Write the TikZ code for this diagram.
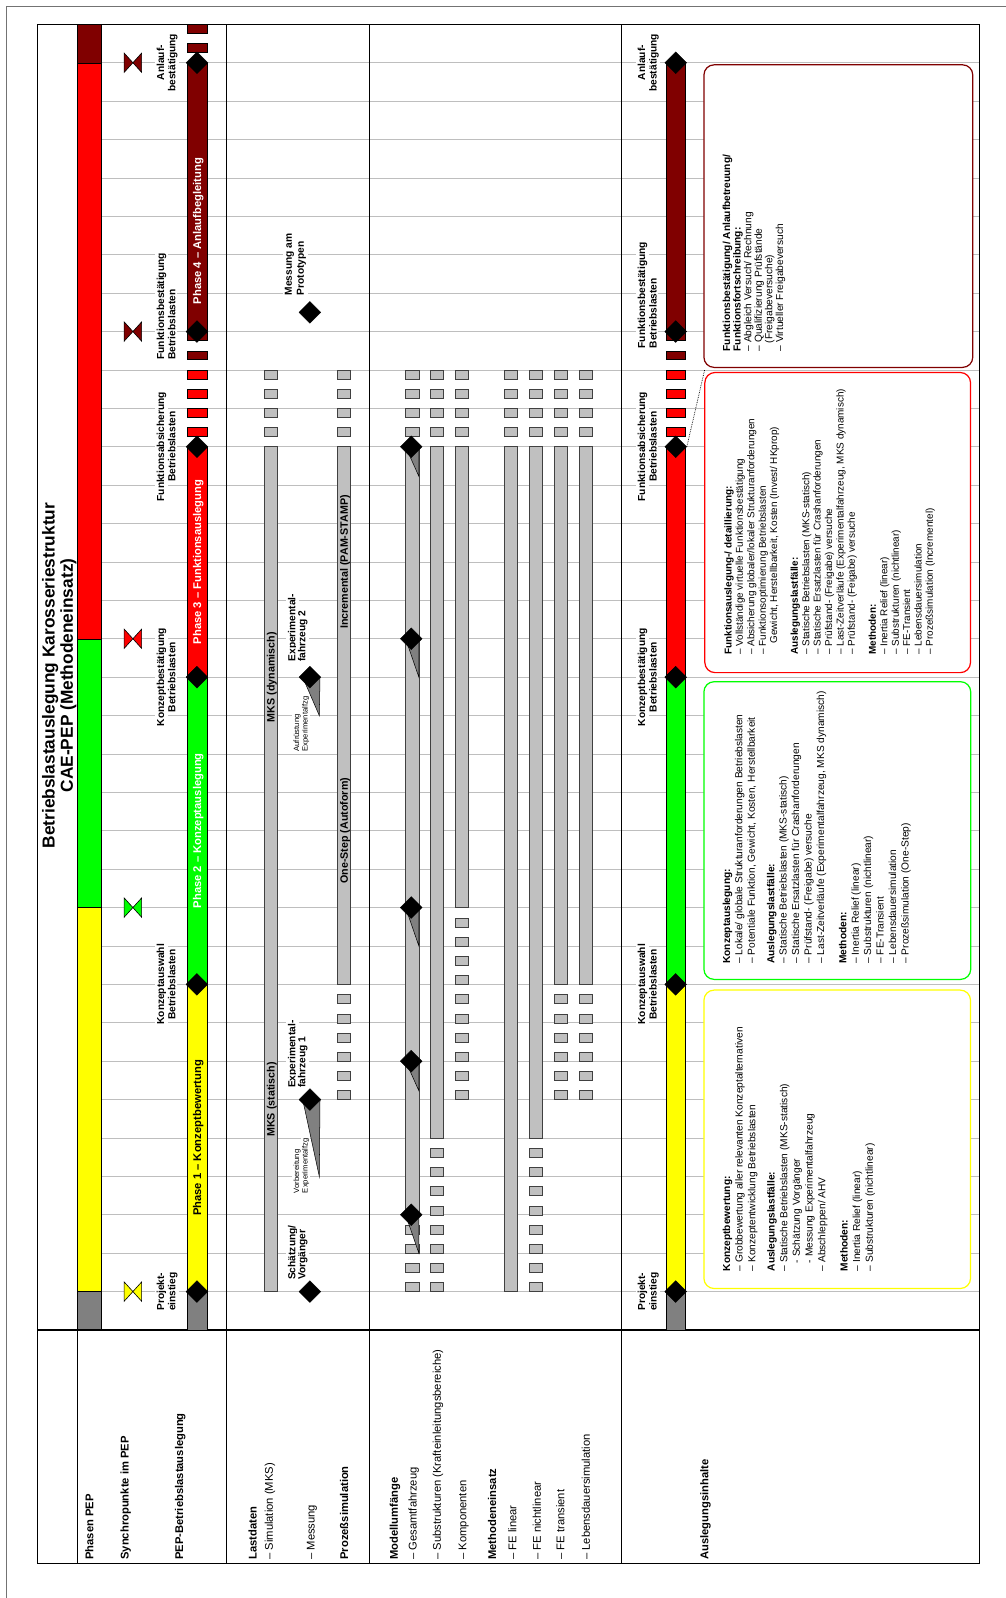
\documentclass[tikz,border=0pt]{standalone}
\usepackage{fontspec}
\setmainfont{Liberation Sans}
\usetikzlibrary{shapes.geometric}
\definecolor{pyel}{HTML}{FFFF00}
\definecolor{pgrn}{HTML}{00FF00}
\definecolor{pred}{HTML}{FF0000}
\definecolor{pdrk}{HTML}{800000}
\definecolor{barg}{HTML}{C0C0C0}
\definecolor{trig}{HTML}{808080}
\definecolor{gridc}{HTML}{BEBEBE}
\newcommand\BarDashUp[5]{\foreach \j in {1,...,#4}{\path[#5] (#1,{ty(#3+0.5*\j-0.23)}) rectangle (#2,{ty(#3+0.5*\j)});}}
\newcommand\BarDashDown[5]{\foreach \j in {1,...,#4}{\path[#5] (#1,{ty(#3-0.5*\j)}) rectangle (#2,{ty(#3-0.5*\j+0.23)});}}
\begin{document}
\begin{tikzpicture}[x=1pt,y=-1pt,
  declare function={ty(\t)=1305-37.68*(\t);},
  gridline/.style={draw=gridc,line width=0.6pt},
  frameline/.style={draw=black,line width=1.1pt},
  pepbar/.style={draw=black,line width=0.45pt},
  gbar/.style={fill=barg,draw=black!75,line width=0.5pt},
  tri/.style={fill=trig,draw=black,line width=0.5pt},
  ms/.style={diamond,fill=black,draw=black,inner sep=0pt,minimum size=21.5pt},
  rot/.style={rotate=90,inner sep=0pt},
  collab/.style={rot,anchor=base west,font=\fontsize{11}{13}\selectfont},
  collabb/.style={collab,font=\fontsize{11}{13}\selectfont\bfseries},
  mslab/.style={rot,anchor=base,fill=white,inner sep=1.5pt,font=\fontsize{10}{12}\selectfont\bfseries},
  mslabw/.style={mslab,anchor=base west},
  phlab/.style={rot,anchor=base,font=\fontsize{11}{13}\selectfont\bfseries},
  barlab/.style={rot,anchor=base,font=\fontsize{10.5}{12}\selectfont\bfseries},
  smlab/.style={rot,anchor=base west,fill=white,inner sep=1.2pt,font=\fontsize{7.5}{9}\selectfont},
  boxtxt/.style={rot,anchor=north west,align=left},
  ibox/.style={line width=1.2pt,fill=white,rounded corners=10pt},
  pics/hglass/.style={code={\path[draw=black,line width=0.6pt,fill=#1] (-8.6,-9.5) -- (8.6,9.5) -- (8.6,-9.5) -- (-8.6,9.5) -- cycle;}}
]
\useasboundingbox (0,0) rectangle (987,1568);
\draw[black!55,line width=0.8pt] (6.5,1568) -- (6.5,5.9) -- (987,5.9);

% time grid
\foreach \k in {1,...,33}{\draw[gridline] (99.8,{ty(\k)}) -- (960.8,{ty(\k)});}

% Phasen PEP
\path[pepbar,fill=trig] (76,{ty(0)}) rectangle (99.8,{ty(1)});
\path[pepbar,fill=pyel] (76,{ty(1)}) rectangle (99.8,{ty(11)});
\path[pepbar,fill=pgrn] (76,{ty(11)}) rectangle (99.8,{ty(18)});
\path[pepbar,fill=pred] (76,{ty(18)}) rectangle (99.8,{ty(33)});
\path[pepbar,fill=pdrk] (76,{ty(33)}) rectangle (99.8,{ty(34)});

% content boxes
\path[ibox,draw=pdrk] (690.7,63.6) rectangle (954.5,360.5);
\path[ibox,draw=pred] (691.6,365.5) rectangle (952.3,660);
\path[ibox,draw=pgrn] (690.7,668.9) rectangle (952.5,961);
\path[ibox,draw=pyel] (690.7,971.5) rectangle (952.3,1264.3);

% frame
\draw[frameline] (36.6,23.9) rectangle (960.8,1533.7);
\draw[frameline] (76,23.9) -- (76,1533.7);
\draw[frameline] (222.4,23.9) -- (222.4,1533.7);
\draw[frameline] (362.3,23.9) -- (362.3,1533.7);
\draw[frameline] (610,23.9) -- (610,1533.7);
\draw[frameline] (36.6,1305) -- (960.8,1305);

% title
\node[rot,anchor=base,font=\fontsize{17}{20}\selectfont\bfseries] (title1) at (53.5,662.8) {Betriebslastauslegung Karosseriestruktur};
\node[rot,anchor=base,font=\fontsize{17}{20}\selectfont\bfseries] (title2) at (71.5,662.8) {CAE-PEP (Methodeneinsatz)};

% synchro points
\pic at (130.4,{ty(1)}) {hglass=pyel};
\pic at (130.4,{ty(11)}) {hglass=pgrn};
\pic at (130.4,{ty(18)}) {hglass=pred};
\pic at (130.4,{ty(26)}) {hglass=pdrk};
\pic at (130.4,{ty(33)}) {hglass=pdrk};

% milestone labels, copy 1
\node[mslab] (ma1) at (161.1,{ty(1)}) {Projekt-};
\node[mslab] (ma2) at (172.1,{ty(1)}) {einstieg};
\node[mslab] (mb1) at (161.1,{ty(9)}) {Konzeptauswahl};
\node[mslab] (mb2) at (172.1,{ty(9)}) {Betriebslasten};
\node[mslab] (mc1) at (161.1,{ty(17)}) {Konzeptbestätigung};
\node[mslab] (mc2) at (172.1,{ty(17)}) {Betriebslasten};
\node[mslab] (md1) at (161.1,{ty(23)}) {Funktionsabsicherung};
\node[mslab] (md2) at (172.1,{ty(23)}) {Betriebslasten};
\node[mslabw] (me1) at (161.1,354.5) {Funktionsbestätigung};
\node[mslabw] (me2) at (172.1,354.5) {Betriebslasten};
\node[mslab] (mf1) at (161.1,{ty(33)}) {Anlauf-};
\node[mslab] (mf2) at (172.1,{ty(33)}) {bestätigung};

% milestone labels, copy 2
\node[mslab] (na1) at (633.1,{ty(1)}) {Projekt-};
\node[mslab] (na2) at (644.4,{ty(1)}) {einstieg};
\node[mslab] (nb1) at (633.1,{ty(9)}) {Konzeptauswahl};
\node[mslab] (nb2) at (644.4,{ty(9)}) {Betriebslasten};
\node[mslab] (nc1) at (633.1,{ty(17)}) {Konzeptbestätigung};
\node[mslab] (nc2) at (644.4,{ty(17)}) {Betriebslasten};
\node[mslab] (nd1) at (633.1,{ty(23)}) {Funktionsabsicherung};
\node[mslab] (nd2) at (644.4,{ty(23)}) {Betriebslasten};
\node[mslabw] (ne1) at (633.1,343.5) {Funktionsbestätigung};
\node[mslabw] (ne2) at (644.4,343.5) {Betriebslasten};
\node[mslab] (nf1) at (633.1,{ty(33)}) {Anlauf-};
\node[mslab] (nf2) at (644.4,{ty(33)}) {bestätigung};

% PEP bar copy 1
\path[pepbar,fill=trig] (183.5,{ty(0)}) rectangle (203,{ty(1)});
\path[pepbar,fill=pyel] (183.5,{ty(1)}) rectangle (203,{ty(9)});
\path[pepbar,fill=pgrn] (183.5,{ty(9)}) rectangle (203,{ty(17)});
\path[pepbar,fill=pred] (183.5,{ty(17)}) rectangle (203,{ty(23)});
\BarDashUp{183.5}{203}{23}{4}{pepbar,fill=pred}
\path[pepbar,fill=pdrk] (183.5,{ty(25.27)}) rectangle (203,{ty(25.5)});
\path[pepbar,fill=pdrk] (183.5,{ty(25.77)}) rectangle (203,{ty(33)});
\BarDashUp{183.5}{203}{33}{2}{pepbar,fill=pdrk}
\node[phlab,text=black] (ph1) at (197.3,{ty(5)}) {Phase 1 – Konzeptbewertung};
\node[phlab,text=white] (ph2) at (197.3,{ty(13)}) {Phase 2 – Konzeptauslegung};
\node[phlab,text=white] (ph3) at (197.3,{ty(20)}) {Phase 3 – Funktionsauslegung};
\node[phlab,text=white] (ph4) at (197.3,226.7) {Phase 4 – Anlaufbegleitung};
\node[ms] (p1) at (193.25,{ty(1)}) {};
\node[ms] (p9) at (193.25,{ty(9)}) {};
\node[ms] (p17) at (193.25,{ty(17)}) {};
\node[ms] (p23) at (193.25,{ty(23)}) {};
\node[ms] (p26) at (193.25,{ty(26)}) {};
\node[ms] (p33) at (193.25,{ty(33)}) {};

% PEP bar copy 2
\path[pepbar,fill=trig] (653.5,{ty(0)}) rectangle (672.5,{ty(1)});
\path[pepbar,fill=pyel] (653.5,{ty(1)}) rectangle (672.5,{ty(9)});
\path[pepbar,fill=pgrn] (653.5,{ty(9)}) rectangle (672.5,{ty(17)});
\path[pepbar,fill=pred] (653.5,{ty(17)}) rectangle (672.5,{ty(23)});
\BarDashUp{653.5}{672.5}{23}{4}{pepbar,fill=pred}
\path[pepbar,fill=pdrk] (653.5,{ty(25.27)}) rectangle (672.5,{ty(25.5)});
\path[pepbar,fill=pdrk] (653.5,{ty(25.77)}) rectangle (672.5,{ty(33)});
\node[ms] (q1) at (663,{ty(1)}) {};
\node[ms] (q9) at (663,{ty(9)}) {};
\node[ms] (q17) at (663,{ty(17)}) {};
\node[ms] (q23) at (663,{ty(23)}) {};
\node[ms] (q26) at (663,{ty(26)}) {};
\node[ms] (q33) at (663,{ty(33)}) {};

% Lastdaten: MKS
\path[gbar] (259.3,{ty(1)}) rectangle (272,{ty(23)});
\BarDashUp{259.3}{272}{23}{4}{gbar}
\node[barlab] (mks1) at (269.4,{ty(6)}) {MKS (statisch)};
\node[barlab] (mks2) at (269.4,{ty(17)}) {MKS (dynamisch)};

% Lastdaten: Messung
\path[tri] (297,{ty(6)}) -- (314,{ty(6)}) -- (313.3,{ty(4)}) -- cycle;
\path[tri] (297,{ty(17)}) -- (314,{ty(17)}) -- (313.3,{ty(16)}) -- cycle;
\node[ms] (m1) at (304.1,{ty(1)}) {};
\node[ms] (m6) at (304.1,{ty(6)}) {};
\node[ms] (m17) at (304.1,{ty(17)}) {};
\node[ms] (m26) at (304.1,{ty(26.5)}) {};
\node[mslabw] (s1a) at (289.8,1257.5) {Schätzung/};
\node[mslabw] (s1b) at (299.6,1257.5) {Vorgänger};
\node[mslabw] (s2a) at (289.8,1069.2) {Experimental-};
\node[mslabw] (s2b) at (299.6,1069.2) {fahrzeug 1};
\node[mslabw] (s3a) at (289.8,650.7) {Experimental-};
\node[mslabw] (s3b) at (299.6,650.7) {fahrzeug 2};
\node[mslabw] (s4a) at (286.5,291.5) {Messung am};
\node[mslabw] (s4b) at (298.2,291.5) {Prototypen};
\node[smlab] (v1a) at (293.4,1172) {Vorbereitung};
\node[smlab] (v1b) at (301.9,1172) {Experimentalfzg};
\node[smlab] (v2a) at (293.4,738.7) {Aufrüstung};
\node[smlab] (v2b) at (301.9,738.7) {Experimentalfzg};

% Prozesssimulation
\path[gbar] (331,{ty(9)}) rectangle (344,{ty(23)});
\BarDashDown{331}{344}{9}{6}{gbar}
\BarDashUp{331}{344}{23}{4}{gbar}
\node[barlab] (pr1) at (341.3,{ty(13)}) {One-Step (Autoform)};
\node[barlab] (pr2) at (341.3,{ty(20)}) {Incremental (PAM-STAMP)};

% Modellumfaenge / Methodeneinsatz bars
\path[gbar] (398,{ty(3)}) rectangle (411,{ty(23)});
\BarDashDown{398}{411}{3}{4}{gbar}
\BarDashUp{398}{411}{23}{4}{gbar}
\path[gbar] (422.3,{ty(5)}) rectangle (435.3,{ty(23)});
\BarDashDown{422.3}{435.3}{5}{8}{gbar}
\BarDashUp{422.3}{435.3}{23}{4}{gbar}
\path[gbar] (446.8,{ty(11)}) rectangle (459.8,{ty(23)});
\BarDashDown{446.8}{459.8}{11}{10}{gbar}
\BarDashUp{446.8}{459.8}{23}{4}{gbar}
\path[gbar] (495,{ty(1)}) rectangle (508,{ty(23)});
\BarDashUp{495}{508}{23}{4}{gbar}
\path[gbar] (519.4,{ty(5)}) rectangle (532.4,{ty(23)});
\BarDashDown{519.4}{532.4}{5}{8}{gbar}
\BarDashUp{519.4}{532.4}{23}{4}{gbar}
\path[gbar] (543.9,{ty(9)}) rectangle (556.9,{ty(23)});
\BarDashDown{543.9}{556.9}{9}{6}{gbar}
\BarDashUp{543.9}{556.9}{23}{4}{gbar}
\path[gbar] (568.4,{ty(9)}) rectangle (581.4,{ty(23)});
\BarDashDown{568.4}{581.4}{9}{6}{gbar}
\BarDashUp{568.4}{581.4}{23}{4}{gbar}

% Gesamtfahrzeug milestones
\path[tri] (398,{ty(3)}) -- (411,{ty(3)}) -- (411,{ty(2)}) -- cycle;
\path[tri] (398,{ty(7)}) -- (411,{ty(7)}) -- (411,{ty(6.23)}) -- cycle;
\path[tri] (398,{ty(11)}) -- (411,{ty(11)}) -- (411,{ty(10)}) -- cycle;
\path[tri] (398,{ty(18)}) -- (411,{ty(18)}) -- (411,{ty(17)}) -- cycle;
\path[tri] (398,{ty(23)}) -- (411,{ty(23)}) -- (411,{ty(22.23)}) -- cycle;
\node[ms] (g3) at (403.5,{ty(3)}) {};
\node[ms] (g7) at (403.5,{ty(7)}) {};
\node[ms] (g11) at (403.5,{ty(11)}) {};
\node[ms] (g18) at (403.5,{ty(18)}) {};
\node[ms] (g23) at (403.5,{ty(23)}) {};

% label column
\node[collabb] (c1) at (91.7,1530.5) {Phasen PEP};
\node[collabb] (c2) at (126.3,1530.5) {Synchropunkte im PEP};
\node[collabb] (c3) at (179.7,1530.5) {PEP-Betriebslastauslegung};
\node[collabb] (c4) at (251.7,1530.5) {Lastdaten};
\node[collab] (c5) at (267.7,1530.5) {– Simulation (MKS)};
\node[collab] (c6) at (308.7,1530.5) {– Messung};
\node[collabb] (c7) at (341.7,1530.5) {Prozeßsimulation};
\node[collabb] (c8) at (390.3,1530.5) {Modellumfänge};
\node[collab] (c9) at (408.7,1530.5) {– Gesamtfahrzeug};
\node[collab] (c10) at (432.7,1530.5) {– Substrukturen (Krafteinleitungsbereiche)};
\node[collab] (c11) at (457.7,1530.5) {– Komponenten};
\node[collabb] (c12) at (486.7,1530.5) {Methodeneinsatz};
\node[collab] (c13) at (506.7,1530.5) {– FE linear};
\node[collab] (c14) at (530.7,1530.5) {– FE nichtlinear};
\node[collab] (c15) at (553.7,1530.5) {– FE transient};
\node[collab] (c16) at (578.7,1530.5) {– Lebensdauersimulation};
\node[collabb] (c17) at (695.1,1530.5) {Auslegungsinhalte};

% box texts
\node[boxtxt,font=\fontsize{10}{12.4}\selectfont] (bt1) at (708.9,1247.6) {%
\textbf{Konzeptbewertung:}\\
– Grobbewertung aller relevanten Konzeptalternativen\\
– Konzeptentwicklung Betriebslasten\\[6.6pt]
\textbf{Auslegungslastfälle:}\\
– Statische Betriebslasten (MKS-statisch)\\
\hspace*{8pt}- Schätzung Vorgänger\\
\hspace*{8pt}- Messung Experimentalfahrzeug\\
– Abschleppen/ AHV\\[9.5pt]
\textbf{Methoden:}\\
– Inertia Relief (linear)\\
– Substrukturen (nichtlinear)};
\node[boxtxt,font=\fontsize{10}{12.2}\selectfont] (bt2) at (708.9,945.7) {%
\textbf{Konzeptauslegung:}\\
– Lokale/ globale Strukturanforderungen Betriebslasten\\
– Potentiale Funktion, Gewicht, Kosten, Herstellbarkeit\\[6.8pt]
\textbf{Auslegungslastfälle:}\\
– Statische Betriebslasten (MKS-statisch)\\
– Statische Ersatzlasten für Crashanforderungen\\
– Prüfstand- (Freigabe) versuche\\
– Last-Zeitverläufe (Experimentalfahrzeug, MKS dynamisch)\\[9.7pt]
\textbf{Methoden:}\\
– Inertia Relief (linear)\\
– Substrukturen (nichtlinear)\\
– FE-Transient\\
– Lebensdauersimulation\\
– Prozeßsimulation (One-Step)};
\node[boxtxt,font=\fontsize{9.75}{11.2}\selectfont] (bt3) at (710.5,642.6) {%
\textbf{Funktionsauslegung-/ detaillierung:}\\
– Vollständige virtuelle Funktionsbestätigung\\
– Absicherung globaler/lokaler Strukturanforderungen\\
– Funktionsoptimierung Betriebslasten\\
\hspace*{11pt}Gewicht, Herstellbarkeit, Kosten (Invest/ HKprop)\\[9.1pt]
\textbf{Auslegungslastfälle:}\\
– Statische Betriebslasten (MKS-statisch)\\
– Statische Ersatzlasten für Crashanforderungen\\
– Prüfstand- (Freigabe) versuche\\
– Last-Zeitverläufe (Experimentalfahrzeug, MKS dynamisch)\\
– Prüfstand- (Feigabe) versuche\\[9.4pt]
\textbf{Methoden:}\\
– Inertia Relief (linear)\\
– Substrukturen (nichtlinear)\\
– FE-Transient\\
– Lebensdauersimulation\\
– Prozeßsimulation (Incrementel)};
\node[boxtxt,font=\fontsize{10}{10.4}\selectfont] (bt4) at (708.9,345) {%
\textbf{Funktionsbestätigung/ Anlaufbetreuung/}\\
\textbf{Funktionsfortschreibung:}\\
– Abgleich Versuch/ Rechnung\\
– Qualifizierung Prüfstände\\
\hspace*{8pt}(Freigabeversuche)\\
– Virtueller Freigabeversuch};

% link from milestone to content boxes
\coordinate (lk) at (691.5,362.5);
\draw[densely dotted,line width=0.7pt] (q23.east) -- (lk);
\end{tikzpicture}
\end{document}
